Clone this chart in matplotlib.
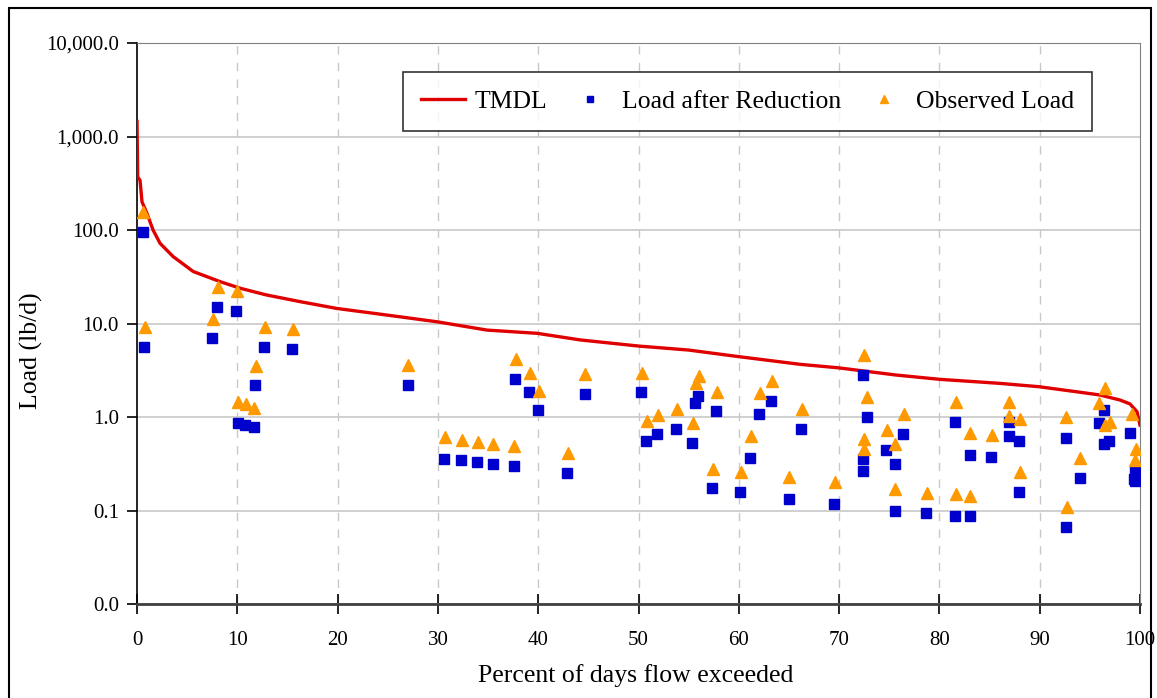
import matplotlib
matplotlib.use("Agg")
import matplotlib.pyplot as plt
from matplotlib.ticker import FixedLocator, FuncFormatter, NullLocator
from matplotlib.patches import Rectangle

# TMDL curve (percent of days flow exceeded, lb/d)
tmdl_x = [0, 0.07, 0.3, 0.5, 1, 1.6, 2.3, 3.6, 5.6, 8.3, 10.3, 12.9, 16.3, 19.9, 26.2, 30,
          34.9, 39.9, 44.2, 50, 55, 60, 66.1, 69.9, 75.7, 80, 86, 89.9, 93.7, 96, 98, 99, 99.7, 100]
tmdl_y = [1450, 370, 340, 200, 150, 100, 72, 52, 36, 28, 23.8, 20.2, 17.1, 14.5, 11.8, 10.4,
          8.5, 7.85, 6.67, 5.74, 5.2, 4.42, 3.66, 3.36, 2.81, 2.53, 2.29, 2.11, 1.86, 1.72, 1.52, 1.38, 1.14, 0.82]

# observed load
obs_x = [0.6, 0.8, 7.6, 8.1, 10.0, 10.1, 10.9, 11.7, 11.9, 12.8, 15.6, 27.0,
         30.7, 32.4, 34.0, 35.5, 37.6, 37.8, 39.2, 40.1, 43.0, 44.7, 50.3, 50.8, 51.9,
         53.8, 55.4, 55.7, 56.0, 57.4, 57.8, 60.2, 61.2, 62.1, 63.3, 65.0, 66.3, 69.6,
         72.5, 72.8, 72.5, 72.5, 74.8, 75.6, 75.6, 76.5, 78.8, 81.7, 81.7, 83.1, 83.1,
         85.2, 86.9, 86.9, 88.0, 88.0, 92.6, 92.7, 94.0, 95.9, 96.5, 96.5, 97.0, 99.2,
         99.6, 99.5]
obs_y = [157, 9.2, 11.2, 24.4, 22, 1.44, 1.38, 1.26, 3.5, 9.1, 8.7, 3.6,
         0.615, 0.57, 0.54, 0.51, 0.49, 4.14, 2.93, 1.91, 0.41, 2.86, 2.98, 0.91, 1.05,
         1.21, 0.855, 2.29, 2.75, 0.28, 1.87, 0.26, 0.62, 1.79, 2.43, 0.23, 1.22, 0.203,
         4.6, 1.65, 0.586, 0.45, 0.73, 0.51, 0.168, 1.09, 0.155, 1.46, 0.149, 0.67, 0.143,
         0.64, 1.46, 1.03, 0.945, 0.26, 1.0, 0.11, 0.36, 1.42, 2.03, 0.82, 0.89, 1.09,
         0.46, 0.347]

# load after reduction
red_x = [0.6, 0.7, 7.5, 8.0, 9.9, 10.1, 10.8, 11.7, 11.8, 12.7, 15.5, 27.0,
         30.6, 32.3, 33.9, 35.5, 37.6, 37.7, 39.1, 40.0, 42.9, 44.7, 50.2, 50.7, 51.8,
         53.7, 55.3, 55.6, 55.9, 57.3, 57.7, 60.1, 61.1, 62.0, 63.2, 65.0, 66.2, 69.5,
         72.4, 72.8, 72.4, 72.4, 74.7, 75.6, 75.6, 76.4, 78.7, 81.6, 81.6, 83.1, 83.1,
         85.1, 86.9, 86.9, 87.9, 87.9, 92.6, 92.6, 94.0, 95.9, 96.4, 96.4, 96.9, 99.0,
         99.5, 99.4, 99.5]
red_y = [96, 5.6, 6.95, 14.9, 13.7, 0.86, 0.82, 0.78, 2.18, 5.6, 5.4, 2.18,
         0.358, 0.344, 0.328, 0.314, 0.301, 2.57, 1.84, 1.19, 0.254, 1.75, 1.84, 0.55, 0.65,
         0.74, 0.53, 1.42, 1.69, 0.173, 1.15, 0.159, 0.36, 1.09, 1.48, 0.134, 0.74, 0.117,
         2.81, 1.01, 0.356, 0.267, 0.44, 0.317, 0.099, 0.65, 0.095, 0.885, 0.087, 0.39, 0.087,
         0.376, 0.89, 0.63, 0.55, 0.159, 0.6, 0.067, 0.224, 0.855, 1.19, 0.51, 0.553, 0.68,
         0.267, 0.216, 0.205]

y_ticks = [0.01, 0.1, 1, 10, 100, 1000, 10000]
x_ticks = list(range(0, 101, 10))

plt.rcParams['font.family'] = ['Liberation Serif', 'DejaVu Serif']

fig = plt.figure(figsize=(11.57, 6.98), dpi=100)
ax = fig.add_axes([137 / 1157, 1 - 604 / 698, (1140 - 137) / 1157, (604 - 43) / 698])

ax.set_yscale('log')
ax.set_ylim(0.01, 10000)
ax.set_xlim(0, 100)

ax.yaxis.set_major_locator(FixedLocator(y_ticks))
ax.yaxis.set_minor_locator(NullLocator())
ax.yaxis.set_major_formatter(FuncFormatter(lambda v, p: '{:,.1f}'.format(v)))
ax.set_xticks(x_ticks)

ax.grid(axis='y', color='#c8c8c8', lw=1.2, ls='-')
for xv in x_ticks[1:-1]:
    ax.axvline(xv, color='#c8c8c8', lw=1.0, ls=(0, (6, 6)), zorder=0)
ax.set_axisbelow(True)

ax.plot(tmdl_x, tmdl_y, color='#e00000', lw=2.4, label='TMDL', zorder=3)
ax.plot(red_x, red_y, ls='none', marker='s', ms=7, color='#0000cc', mec='#0000cc',
        label='Load after Reduction', zorder=4)
ax.plot(obs_x, obs_y, ls='none', marker='^', ms=9, color='#ff9900', mec='#ff9900',
        label='Observed Load', zorder=4)

for side in ['top', 'right']:
    ax.spines[side].set_color('#808080')
ax.spines['left'].set_linewidth(1.2)
ax.spines['bottom'].set_linewidth(2.0)
ax.spines['bottom'].set_color('#404040')

ax.tick_params(axis='y', direction='out', length=7, width=1.2, labelsize=15, pad=6)
ax.tick_params(axis='x', direction='inout', length=15, width=1.2, labelsize=15, pad=12)
ax.set_xlabel('Percent of days flow exceeded', fontsize=18.5)
ax.set_ylabel('Load (lb/d)', fontsize=18.5)
ax.xaxis.set_label_coords(0.4975, -0.128)
ax.yaxis.set_label_coords((31 - 137) / 1003, (604 - 351) / 561)
ax.xaxis.label.set_va('center')
ax.yaxis.label.set_va('center')

leg = ax.legend(loc='upper left', bbox_to_anchor=((403 - 137) / 1003, 1 - (72 - 43) / 561),
                ncol=3, fontsize=18.5, frameon=True, fancybox=False, edgecolor='black',
                handlelength=1.7, handletextpad=0.4, columnspacing=0.8, borderpad=0.7,
                borderaxespad=0, markerscale=0.7)
leg.get_frame().set_linewidth(1.2)

fig.patches.append(Rectangle((9 / 1157, -0.02), (1151 - 9) / 1157, 1.02 - 8 / 698,
                             transform=fig.transFigure, fill=False, edgecolor='black', lw=1.5))

fig.savefig('out.png', dpi=100, facecolor='white')
